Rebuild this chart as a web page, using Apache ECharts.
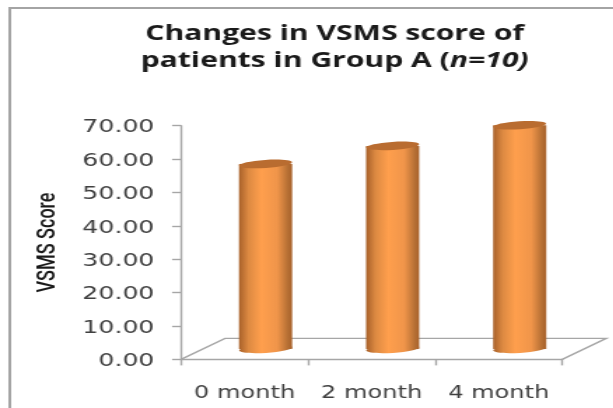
<!DOCTYPE html>
<html>
<head>
<meta charset="utf-8">
<style>
  html, body { margin: 0; padding: 0; background: #fff; overflow: hidden; }
  /* the source picture is a chart stretched sideways, so the chart is too */
  #main { width: 438px; height: 408px; transform: scaleX(1.4); transform-origin: 0 0; filter: blur(0.45px); }
</style>
<script src="https://cdn.jsdelivr.net/npm/echarts@6/dist/echarts.min.js"></script>
</head>
<body>
<div id="main"></div>
<script>
var categories = ['0 month', '2 month', '4 month']
var scores = [55.4, 60.8, 67]
var yTicks = { min: 0, max: 70, interval: 10 }

var depthX = 15.7 // half depth of the 3d floor
var depthY = -10.5
var barShift = 15
var axisGray = '#a6a6a6'

var myChart = echarts.init(document.getElementById('main'))

// floor of the fake 3d plot, behind the bars
function renderFloor (params, api) {
  var o = api.coord([0, 0])
  var rect = params.coordSys
  var x0 = rect.x
  var x1 = rect.x + rect.width
  var y0 = o[1]
  return {
    type: 'polyline',
    shape: {
      points: [
        [x0, y0],
        [x0 + depthX * 2, y0 + depthY * 2],
        [x1 + depthX * 2, y0 + depthY * 2],
        [x1, y0]
      ]
    },
    style: { stroke: axisGray, lineWidth: 1.4, fill: null }
  }
}

// cylinder: body + bottom ellipse + top ellipse
function renderBar (params, api) {
  var top = api.coord([api.value(0), api.value(1)])
  var base = api.coord([api.value(0), 0])
  var w = api.size([1, 0])[0] * 0.418
  var cx = top[0] + barShift
  var yTop = top[1] + depthY
  var yBase = base[1] + depthY
  var grad = new echarts.graphic.LinearGradient(0, 0, 1, 0, [
    { offset: 0, color: '#a8612a' },
    { offset: 0.18, color: '#dd8a42' },
    { offset: 0.42, color: '#ff9f4d' },
    { offset: 0.72, color: '#f0954a' },
    { offset: 0.92, color: '#b56f34' },
    { offset: 1, color: '#a8612a' }
  ])
  return {
    type: 'group',
    children: [
      {
        type: 'ellipse',
        shape: { cx: cx, cy: yBase, rx: w / 2, ry: 4 },
        rotation: 0.09,
        originX: cx,
        originY: yBase,
        style: { fill: grad }
      },
      {
        type: 'rect',
        shape: { x: cx - w / 2, y: yTop, width: w, height: yBase - yTop },
        style: { fill: grad }
      },
      {
        type: 'ellipse',
        shape: { cx: cx, cy: yTop, rx: w / 2, ry: 4 },
        rotation: 0.09,
        originX: cx,
        originY: yTop,
        style: { fill: '#b96c30' }
      }
    ]
  }
}

myChart.setOption({
  animation: false,
  backgroundColor: '#fff',
  title: {
    left: 234,
    top: 15,
    textAlign: 'center',
    text: '{b|Changes in VSMS score of}\n{b|patients in Group A (}{i|n=10)}',
    textStyle: {
      rich: {
        b: { fontFamily: 'Open Sans', fontSize: 21.5, fontWeight: 'bold', color: '#1a1a1a', lineHeight: 27 },
        i: { fontFamily: 'Open Sans', fontSize: 21.5, fontWeight: 'bold', fontStyle: 'italic', color: '#1a1a1a', lineHeight: 27 }
      }
    }
  },
  grid: { left: 129.3, right: 36.4, top: 125.7, bottom: 48.6 },
  xAxis: {
    type: 'category',
    data: categories,
    axisLine: { lineStyle: { color: axisGray, width: 1.4 } },
    axisTick: { show: true, alignWithLabel: false, length: 6, lineStyle: { color: axisGray, width: 1.4 } },
    axisLabel: { color: '#404040', fontFamily: 'DejaVu Sans', fontSize: 17.2, margin: 26, interval: 0, hideOverlap: false }
  },
  yAxis: {
    type: 'value',
    min: yTicks.min,
    max: yTicks.max,
    interval: yTicks.interval,
    name: 'VSMS Score',
    nameLocation: 'middle',
    nameGap: 86,
    nameRotate: 90,
    nameTextStyle: { color: '#1a1a1a', fontFamily: 'Roboto', fontWeight: 500, fontSize: 18 },
    splitLine: { show: false },
    axisLine: { show: true, lineStyle: { color: axisGray, width: 1.4 } },
    axisTick: { show: true, length: 6.4, lineStyle: { color: axisGray, width: 1.4 } },
    axisLabel: {
      color: '#404040',
      fontFamily: 'DejaVu Sans',
      fontSize: 18,
      margin: 19,
      verticalAlign: 'top',
      lineHeight: 4,
      formatter: function (v) { return v.toFixed(2) }
    }
  },
  graphic: [
    {
      type: 'polyline',
      silent: true,
      shape: { points: [[7, 408], [7, 8], [438, 8]] },
      style: { stroke: '#a4a4a4', lineWidth: 2, fill: null }
    }
  ],
  series: [
    {
      type: 'custom',
      renderItem: renderFloor,
      data: [[0, 0]],
      clip: false,
      z: 1
    },
    {
      type: 'custom',
      renderItem: renderBar,
      data: categories.map(function (c, i) { return [i, scores[i]] }),
      encode: { x: 0, y: 1 },
      clip: false,
      z: 3
    }
  ]
})
</script>
</body>
</html>
